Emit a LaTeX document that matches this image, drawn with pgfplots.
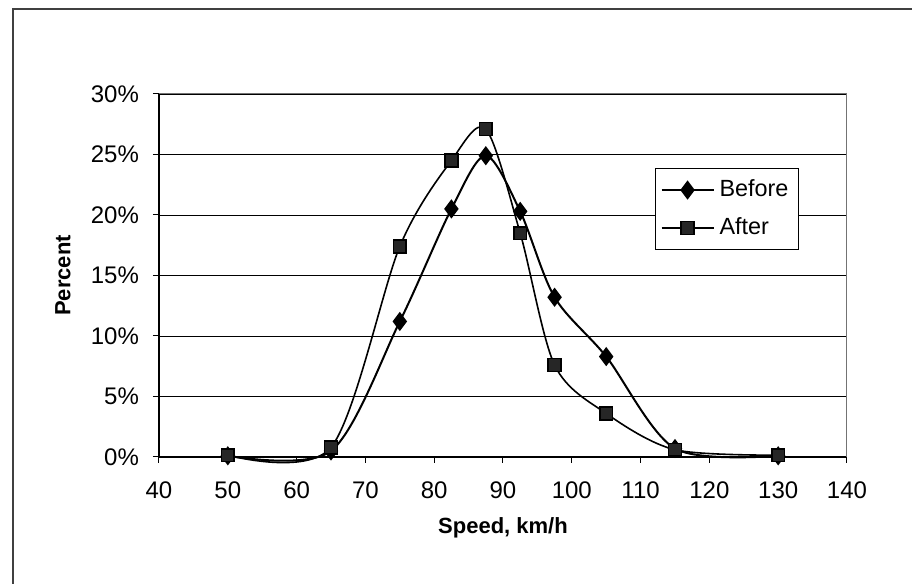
\documentclass[border=0pt]{standalone}
\usepackage{pgfplots}
\pgfplotsset{compat=1.18}
\usepackage{fontspec}
\setmainfont{Liberation Sans}
\begin{document}
\begin{tikzpicture}[x=1pt,y=1pt]
% canvas and chart frame (only top and left edges of the frame are shown)
\useasboundingbox (0,0) rectangle (456,292);
\draw[line width=0.9pt, black!75] (6.5,0) -- (6.5,287.5) -- (456,287.5);
\begin{axis}[
  at={(79.5pt,63.5pt)}, anchor=south west,
  scale only axis, width=344pt, height=181.5pt,
  xmin=40, xmax=140, ymin=0, ymax=30,
  xtick={40,50,...,140}, ytick={0,5,...,30},
  axis x line*=bottom, axis y line*=left,
  axis line style={-, black, line width=0.6pt},
  tick align=outside, major tick length=3pt,
  tick style={black, line width=0.5pt},
  xtick pos=bottom, ytick pos=left,
  ymajorgrids, grid style={black, line width=0.45pt},
  font=\fontsize{12}{14}\selectfont,
  /pgf/number format/assume math mode=true,
  yticklabel={\pgfmathprintnumber{\tick}\%},
  xticklabel style={yshift=-6pt},
  yticklabel style={xshift=-3.5pt},
  xlabel={\textbf{Speed, km/h}}, ylabel={\textbf{Percent}},
  xlabel style={at={(rel axis cs:0.5,0)}, anchor=center, yshift=-35.5pt, font=\fontsize{11}{13}\selectfont},
  ylabel style={at={(rel axis cs:0,0.5)}, anchor=center, yshift=48pt, font=\fontsize{11}{13}\selectfont},
  legend style={at={(rel axis cs:0.721,0.796)}, anchor=north west, draw=black, line width=0.5pt,
    font=\fontsize{11.7}{13}\selectfont, row sep=7.5pt, column sep=0pt,
    inner xsep=2.5pt, inner ysep=5pt,
    nodes={inner xsep=2.5pt, inner ysep=0pt, text height=9pt, text depth=2.5pt}},
  legend cell align=left,
  legend image code/.code={%
    \draw[mark repeat=2, mark phase=2] plot coordinates {(0pt,0pt) (13pt,0pt) (26pt,0pt)};},
  clip=false,
]
\draw[black!55, line width=0.5pt] (rel axis cs:0,1) -- (rel axis cs:1,1) -- (rel axis cs:1,0);
\addplot[black, line width=1pt, smooth, mark=diamond*, mark size=4pt,
  mark options={solid, fill=black}]
  coordinates {(50,0.1) (65,0.5) (75,11.2) (82.5,20.5) (87.5,24.9) (92.5,20.3)
               (97.5,13.2) (105,8.3) (115,0.7) (130,0.1)};
\addlegendentry{Before}
\addplot[black, line width=0.8pt, smooth, mark=square*, mark size=3.2pt,
  mark options={solid, fill=black!85}]
  coordinates {(50,0.15) (65,0.8) (75,17.4) (82.5,24.5) (87.5,27.1) (92.5,18.5)
               (97.5,7.6) (105,3.6) (115,0.6) (130,0.15)};
\addlegendentry{After}
\end{axis}
\end{tikzpicture}
\end{document}
